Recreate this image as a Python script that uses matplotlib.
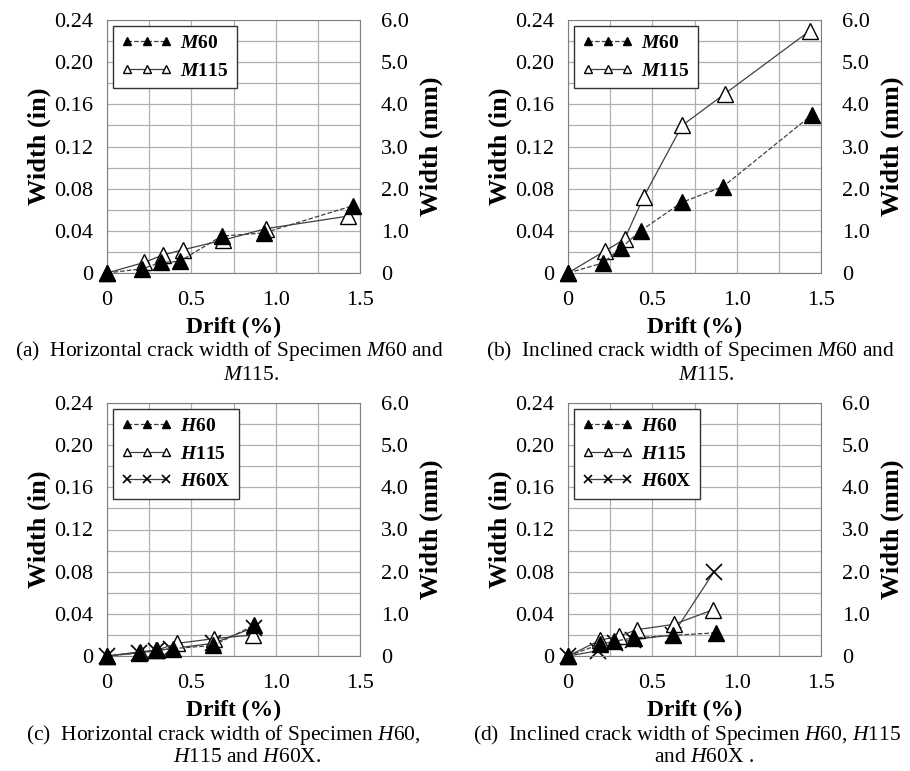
import matplotlib
matplotlib.use('Agg')
import matplotlib.pyplot as plt

plt.rcParams['font.family'] = 'Liberation Serif'
plt.rcParams['mathtext.fontset'] = 'custom'
plt.rcParams['mathtext.rm'] = 'Liberation Serif'
plt.rcParams['mathtext.it'] = 'Liberation Serif:italic'
plt.rcParams['mathtext.bf'] = 'Liberation Serif:bold'
plt.rcParams['mathtext.bfit'] = 'Liberation Serif:italic:bold'

# (a) horizontal crack width, M60 / M115
a_m60_drift = [0, 0.21, 0.32, 0.43, 0.68, 0.93, 1.46]
a_m60_width = [0, 0.004, 0.010, 0.011, 0.035, 0.038, 0.064]
a_m115_drift = [0, 0.22, 0.33, 0.45, 0.685, 0.94, 1.43]
a_m115_width = [0, 0.010, 0.017, 0.022, 0.031, 0.042, 0.054]

# (b) inclined crack width, M60 / M115
b_m60_drift = [0, 0.207, 0.316, 0.43, 0.675, 0.92, 1.446]
b_m60_width = [0, 0.0095, 0.024, 0.040, 0.067, 0.082, 0.150]
b_m115_drift = [0, 0.22, 0.335, 0.448, 0.677, 0.93, 1.436]
b_m115_width = [0, 0.021, 0.032, 0.072, 0.140, 0.170, 0.230]

# (c) horizontal crack width, H60 / H115 / H60X
c_h60_drift = [0, 0.19, 0.29, 0.39, 0.63, 0.87]
c_h60_width = [0, 0.003, 0.0055, 0.007, 0.010, 0.029]
c_h115_drift = [0, 0.195, 0.295, 0.415, 0.636, 0.867]
c_h115_width = [0, 0.004, 0.0055, 0.012, 0.0165, 0.020]
c_h60x_drift = [0, 0.19, 0.29, 0.38, 0.63, 0.87]
c_h60x_width = [0, 0.003, 0.005, 0.007, 0.012, 0.027]

# (d) inclined crack width, H60 / H115 / H60X
d_h60_drift = [0, 0.188, 0.275, 0.39, 0.62, 0.875]
d_h60_width = [0, 0.011, 0.014, 0.0172, 0.0195, 0.022]
d_h115_drift = [0, 0.19, 0.30, 0.41, 0.628, 0.862]
d_h115_width = [0, 0.015, 0.0187, 0.025, 0.030, 0.044]
d_h60x_drift = [0, 0.18, 0.28, 0.385, 0.62, 0.866]
d_h60x_width = [0, 0.005, 0.012, 0.0155, 0.020, 0.080]

x_ticks = [0, 0.5, 1.0, 1.5]
x_tick_labels = ['0', '0.5', '1.0', '1.5']
y_ticks = [0, 0.04, 0.08, 0.12, 0.16, 0.20, 0.24]
y_tick_labels = ['0', '0.04', '0.08', '0.12', '0.16', '0.20', '0.24']
mm_ticks = [0, 1, 2, 3, 4, 5, 6]
mm_tick_labels = ['0', '1.0', '2.0', '3.0', '4.0', '5.0', '6.0']

W, H = 910, 771
fig = plt.figure(figsize=(W / 100, H / 100), dpi=100)

line_col = '#404040'
styles = {
    '60': dict(linestyle='--', marker='^', markerfacecolor='black', markeredgecolor='black'),
    '115': dict(linestyle='-', marker='^', markerfacecolor='white', markeredgecolor='black'),
    'X': dict(linestyle='-', marker='x', markeredgecolor='black', markeredgewidth=1.2),
}


def panel(left_px, top_px, series):
    ax = fig.add_axes([left_px / W, 1 - (top_px + 253) / H, 253 / W, 253 / H])
    for i, (drift, width, key, label) in enumerate(series):
        ax.plot(drift, width, color=line_col, linewidth=0.9, markersize=11,
                label=label, clip_on=False, zorder=4 - i, **styles[key])
    ax.set_xlim(0, 1.5)
    ax.set_ylim(0, 0.24)
    ax.set_xticks(x_ticks, x_tick_labels, fontsize=16)
    ax.set_yticks(y_ticks, y_tick_labels, fontsize=16)
    ax.set_xticks([0.25, 0.75, 1.25], minor=True)
    ax.set_yticks([0.02, 0.06, 0.10, 0.14, 0.18, 0.22], minor=True)
    ax.tick_params(which='both', length=0)
    ax.tick_params(axis='x', pad=13)
    ax.tick_params(axis='y', pad=10)
    ax.grid(True, which='both', color='#b0b0b0', linewidth=0.9)
    ax.set_axisbelow(True)
    for s in ax.spines.values():
        s.set_color('#808080')
    ax.set_xlabel('Drift (%)', fontsize=17, fontweight='bold', labelpad=5)
    ax.set_ylabel('Width (in)', fontsize=19, fontweight='bold', labelpad=2)
    ax2 = ax.twinx()
    ax2.set_ylim(0, 6)
    ax2.set_yticks(mm_ticks, mm_tick_labels, fontsize=16)
    ax2.tick_params(length=0, pad=15)
    for s in ax2.spines.values():
        s.set_visible(False)
    ax2.set_ylabel('Width (mm)', fontsize=19, fontweight='bold', labelpad=8)
    leg = ax.legend(loc='upper left', numpoints=3, markerscale=0.5, handlelength=2.6,
                    prop={'weight': 'bold', 'size': 14}, fancybox=False, framealpha=1,
                    edgecolor='#333333', borderaxespad=0.3, handletextpad=0.4,
                    labelspacing=0.5, borderpad=0.45)
    leg.get_frame().set_linewidth(1.0)
    leg.set_zorder(6)
    return ax


panel(107, 20, [
    (a_m60_drift, a_m60_width, '60', r'$\mathbfit{M}$60'),
    (a_m115_drift, a_m115_width, '115', r'$\mathbfit{M}$115'),
])
panel(568, 20, [
    (b_m60_drift, b_m60_width, '60', r'$\mathbfit{M}$60'),
    (b_m115_drift, b_m115_width, '115', r'$\mathbfit{M}$115'),
])
panel(107, 403, [
    (c_h60_drift, c_h60_width, '60', r'$\mathbfit{H}$60'),
    (c_h115_drift, c_h115_width, '115', r'$\mathbfit{H}$115'),
    (c_h60x_drift, c_h60x_width, 'X', r'$\mathbfit{H}$60X'),
])
panel(568, 403, [
    (d_h60_drift, d_h60_width, '60', r'$\mathbfit{H}$60'),
    (d_h115_drift, d_h115_width, '115', r'$\mathbfit{H}$115'),
    (d_h60x_drift, d_h60x_width, 'X', r'$\mathbfit{H}$60X'),
])

captions = [
    (230, 351, r'(a)  Horizontal crack width of Specimen $\mathit{M}$60 and'),
    (251, 375, r'$\mathit{M}$115.'),
    (690, 351, r'(b)  Inclined crack width of Specimen $\mathit{M}$60 and'),
    (706, 375, r'$\mathit{M}$115.'),
    (223, 735, r'(c)  Horizontal crack width of Specimen $\mathit{H}$60,'),
    (247, 758, r'$\mathit{H}$115 and $\mathit{H}$60X.'),
    (687, 735, r'(d)  Inclined crack width of Specimen $\mathit{H}$60, $\mathit{H}$115'),
    (704, 758, r'and $\mathit{H}$60X .'),
]
for x, y, t in captions:
    fig.text(x / W, 1 - y / H, t, ha='center', va='center', fontsize=15.5)

fig.savefig('out.png', dpi=100)
